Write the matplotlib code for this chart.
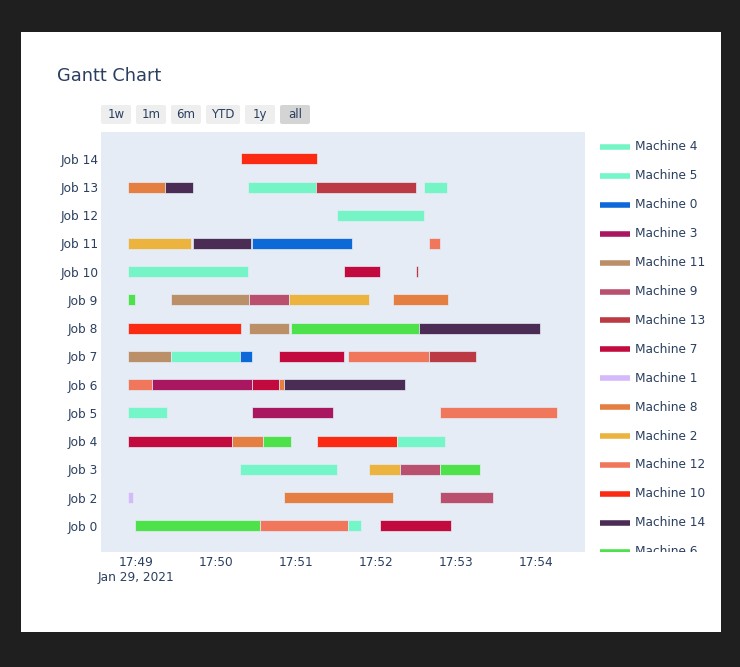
import datetime as dt
import matplotlib
matplotlib.use('Agg')
import matplotlib.pyplot as plt
import matplotlib.dates as mdates
from matplotlib.patches import Rectangle, FancyBboxPatch
from matplotlib.ticker import FuncFormatter

# schedule start; task times below are seconds after it
t0 = dt.datetime(2021, 1, 29, 17, 48, 54)

jobs = [0, 2, 3, 4, 5, 6, 7, 8, 9, 10, 11, 12, 13, 14]

task_job = [14,
            13, 13, 13, 13, 13,
            12,
            11, 11, 11, 11,
            10, 10, 10,
            9, 9, 9, 9, 9,
            8, 8, 8, 8,
            7, 7, 7, 7, 7, 7,
            6, 6, 6, 6, 6,
            5, 5, 5,
            4, 4, 4, 4, 4,
            3, 3, 3, 3,
            2, 2, 2,
            0, 0, 0, 0]
task_machine = [10,
                8, 14, 4, 13, 4,
                4,
                2, 14, 0, 12,
                4, 7, 13,
                6, 11, 9, 2, 8,
                10, 11, 6, 14,
                11, 5, 0, 7, 12, 13,
                12, 3, 7, 8, 14,
                5, 3, 12,
                7, 8, 6, 10, 5,
                5, 2, 9, 6,
                1, 8, 9,
                6, 12, 5, 7]
task_start = [85,
              0, 28, 90, 141, 222,
              157,
              0, 49, 93, 226,
              0, 162, 216,
              0, 32, 91, 121, 199,
              0, 91, 122, 218,
              0, 32, 84, 113, 165, 226,
              0, 18, 93, 113, 117,
              0, 93, 234,
              0, 78, 101, 142, 202,
              84, 181, 204, 234,
              0, 117, 234,
              5, 99, 165, 189]
task_finish = [142,
               28, 49, 141, 216, 239,
               222,
               47, 92, 168, 234,
               90, 189, 217.5,
               5, 91, 121, 181, 240,
               85, 121, 218, 309,
               32, 84, 93, 162, 226, 261,
               18, 93, 113, 117, 208,
               29, 154, 322,
               78, 101, 122, 202, 238,
               157, 204, 234, 264,
               4, 199, 274,
               99, 165, 175, 242]

# legend order (first appearance) and colours
machines = [4, 5, 0, 3, 11, 9, 13, 7, 1, 8, 2, 12, 10, 14, 6]
machine_colors = ['#75f5c6', '#74f6c9', '#0e69d8', '#a8175f', '#bb8f67',
                  '#b9506e', '#bb3a44', '#c20a3e', '#d4b9fb', '#e57f41',
                  '#ecb43e', '#f0765c', '#fb2a13', '#4a2c55', '#4de14a']

buttons = ['1w', '1m', '6m', 'YTD', '1y', 'all']

TXT = '#2a3f5f'
W, H = 740, 667

fig = plt.figure(figsize=(W / 100, H / 100), dpi=100, facecolor='#1f1f1f')
fig.patches.append(Rectangle((21 / W, 1 - 632 / H), 700 / W, 600 / H,
                             transform=fig.transFigure, facecolor='white',
                             edgecolor='none', zorder=-10))

ax = fig.add_axes([101 / W, 1 - 552 / H, 484 / W, 420 / H])
ax.set_facecolor('#e5ecf6')
for s in ax.spines.values():
    s.set_visible(False)

color_of = dict(zip(machines, machine_colors))
row_of = {j: i for i, j in enumerate(jobs)}
day = 86400.0
for j, m, s, f in zip(task_job, task_machine, task_start, task_finish):
    left = mdates.date2num(t0 + dt.timedelta(seconds=s))
    ax.barh(row_of[j], (f - s) / day, left=left, height=0.39,
            color=color_of[m], edgecolor='#e5ecf6', linewidth=0.5)

ax.set_yticks(range(len(jobs)))
ax.set_yticklabels(['Job %d' % j for j in jobs])
ax.set_ylim(-0.93, 13.95)

x_lo = mdates.date2num(dt.datetime(2021, 1, 29, 17, 48, 33, 750000))
x_hi = mdates.date2num(dt.datetime(2021, 1, 29, 17, 54, 36, 750000))
ax.set_xlim(x_lo, x_hi)
ax.xaxis.set_major_locator(mdates.MinuteLocator())


def fmt(x, pos):
    d = mdates.num2date(x)
    lab = d.strftime('%H:%M')
    if 0 <= x - x_lo < 1 / 1440:
        lab += '\nJan 29, 2021'
    return lab


ax.xaxis.set_major_formatter(FuncFormatter(fmt))
ax.tick_params(length=0, labelsize=8.7, labelcolor=TXT)
ax.tick_params(axis='x', pad=3)
ax.tick_params(axis='y', pad=2)

fig.text(57 / W, 1 - 76 / H, 'Gantt Chart', fontsize=12.8, color=TXT,
         va='center', ha='left')

# range selector buttons
bx = [101, 136, 171, 206, 245, 280]
bw = [30, 30, 30, 34, 30, 30]
for lab, x, w in zip(buttons, bx, bw):
    fc = '#d4d4d4' if lab == 'all' else '#eeeeee'
    fig.patches.append(FancyBboxPatch((x / W, 1 - 124 / H), w / W, 19 / H,
                                      boxstyle='round,pad=0,rounding_size=0.003',
                                      transform=fig.transFigure, facecolor=fc,
                                      edgecolor='none', zorder=1))
    fig.text((x + w / 2) / W, 1 - 114.5 / H, lab, fontsize=8.5, color=TXT,
             ha='center', va='center')

# legend, clipped at the bottom like the scrolling plotly legend
lax = fig.add_axes([590 / W, 1 - 552 / H, 130 / W, 420 / H])
lax.set_xlim(0, 130)
lax.set_ylim(420, 0)
lax.axis('off')
for i, (m, c) in enumerate(zip(machines, machine_colors)):
    y = 15 + 28.9 * i
    lax.plot([10, 40], [y, y], color=c, lw=4, solid_capstyle='butt')
    lax.text(45, y, 'Machine %d' % m, fontsize=8.7, color=TXT,
             va='center', ha='left', clip_on=True)

fig.savefig('out.png', dpi=100, facecolor=fig.get_facecolor())
